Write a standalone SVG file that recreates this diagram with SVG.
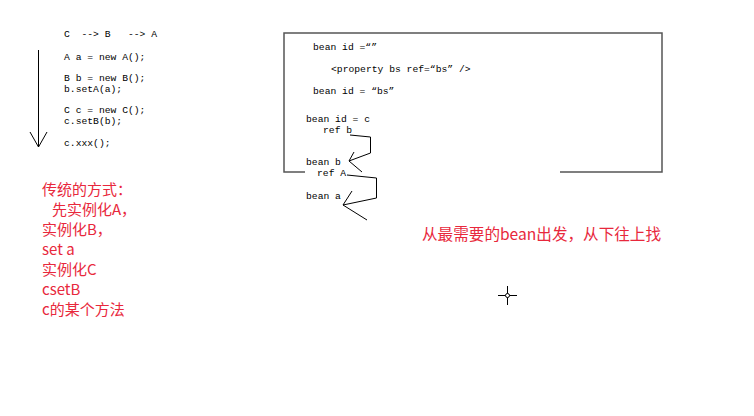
<svg xmlns="http://www.w3.org/2000/svg" width="754" height="416" viewBox="0 0 754 416">
<style>
.code{font-family:"Liberation Mono","Noto Sans CJK SC",monospace;font-size:9.7px;fill:#000}
.red{font-family:"Noto Sans CJK SC","Noto Sans",sans-serif;font-size:15px;fill:#e8283c}
.big{font-size:15.6px}
.ln{stroke:#000;stroke-width:1;fill:none}
.box{stroke:#555;stroke-width:1.5;fill:none}
</style>
<rect width="754" height="416" fill="#fff"/>
<g id="code-left">
<text class="code" x="64" y="37" xml:space="preserve">C  --&gt; B   --&gt; A</text>
<text class="code" x="64" y="60">A a = new A();</text>
<text class="code" x="64" y="81">B b = new B();</text>
<text class="code" x="64" y="92">b.setA(a);</text>
<text class="code" x="64" y="113">C c = new C();</text>
<text class="code" x="64" y="124">c.setB(b);</text>
<text class="code" x="64" y="146">c.xxx();</text>
</g>
<g id="down-arrow">
<line class="ln" x1="38.5" y1="50" x2="38.5" y2="147"/>
<polyline class="ln" points="30,132 38.5,147 47,132"/>
</g>
<g id="box">
<polyline class="box" points="305,172 284,172 284,33 662,33 662,172 560,172"/>
</g>
<g id="box-text">
<text class="code" x="313" y="50">bean id =“”</text>
<text class="code" x="331" y="72">&lt;property bs ref=“bs” /&gt;</text>
<text class="code" x="313" y="94">bean id = “bs”</text>
<text class="code" x="306" y="122">bean id = c</text>
<text class="code" x="323" y="133">ref b</text>
<text class="code" x="306" y="165">bean b</text>
<text class="code" x="317" y="176">ref A</text>
<text class="code" x="306" y="199">bean a</text>
</g>
<g id="connectors">
<polyline class="ln" points="350,135 370.5,137 370.5,153 349,161"/>
<line class="ln" x1="349" y1="161" x2="354" y2="152"/>
<line class="ln" x1="349" y1="161" x2="362" y2="172"/>
<polyline class="ln" points="347,175 376.5,178 376.5,198 343,205"/>
<line class="ln" x1="343" y1="205" x2="352" y2="191"/>
<line class="ln" x1="343" y1="205" x2="367" y2="220"/>
</g>
<g id="red-notes">
<text class="red" x="42" y="195">传统的方式：</text>
<text class="red" x="52" y="215">先实例化A，</text>
<text class="red" x="42" y="235">实例化B，</text>
<text class="red" x="42" y="255">set a</text>
<text class="red" x="42" y="275">实例化C</text>
<text class="red" x="42" y="295">csetB</text>
<text class="red" x="42" y="315">c的某个方法</text>
<text class="red big" x="422" y="240">从最需要的bean出发，从下往上找</text>
</g>
<g id="cursor">
<line class="ln" x1="498" y1="295.5" x2="517" y2="295.5"/>
<line class="ln" x1="507.5" y1="286" x2="507.5" y2="305"/>
<circle cx="507.5" cy="295.5" r="2" fill="#fff" stroke="#000"/>
</g>
</svg>
